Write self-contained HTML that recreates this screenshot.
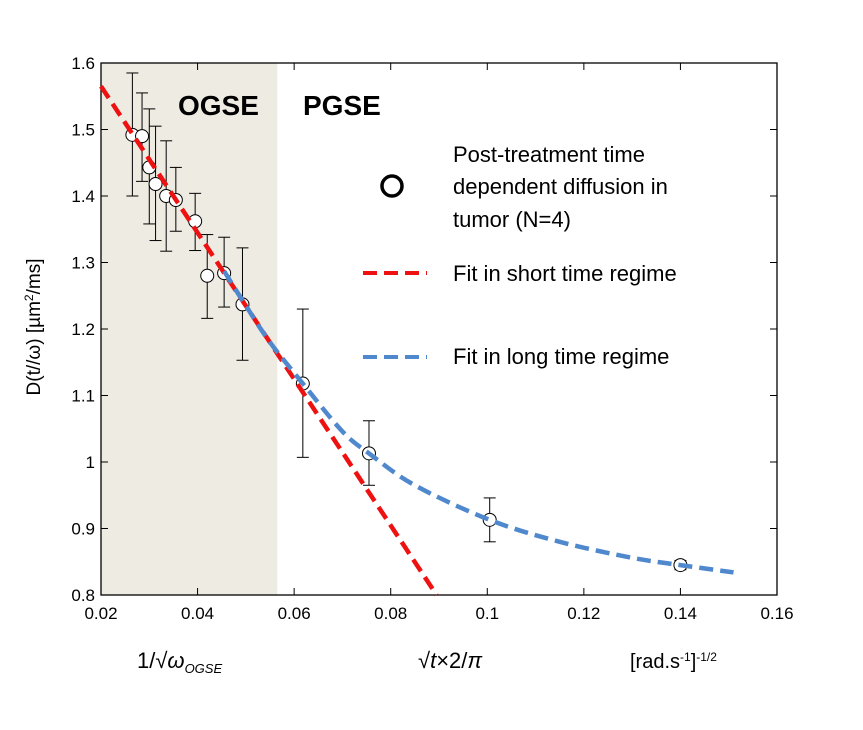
<!DOCTYPE html>
<html><head><meta charset="utf-8"><style>
body{margin:0;background:#fff;}
svg text{font-family:"Liberation Sans",sans-serif;}
</style></head><body>
<svg id="chart" width="863" height="725" xmlns="http://www.w3.org/2000/svg">
<rect x="0" y="0" width="863" height="725" fill="#fff"/>
<g id="plot"></g>
<text x="40" y="327" transform="rotate(-90 40 327)" text-anchor="middle" font-size="19">D(t//ω) [µm<tspan baseline-shift="super" font-size="12">2</tspan>/ms]</text>
<text x="137" y="668" font-family="Liberation Serif" font-size="22">1/√<tspan font-style="italic">ω</tspan><tspan font-style="italic" font-size="13" dy="5">OGSE</tspan></text>
<text x="418" y="668" font-family="Liberation Serif" font-size="22">√<tspan font-style="italic">t</tspan>×2/<tspan font-style="italic">π</tspan></text>
<text x="630" y="668" font-size="20">[rad.s<tspan baseline-shift="super" font-size="12">-1</tspan>]<tspan baseline-shift="super" font-size="12">-1/2</tspan></text>
</svg>
<script>
const xTicks=[0.02,0.04,0.06,0.08,0.1,0.12,0.14,0.16];
const xTickLabels=["0.02","0.04","0.06","0.08","0.1","0.12","0.14","0.16"];
const yTicks=[0.8,0.9,1.0,1.1,1.2,1.3,1.4,1.5,1.6];
const yTickLabels=["0.8","0.9","1","1.1","1.2","1.3","1.4","1.5","1.6"];
const ptX=[0.0265,0.0285,0.0300,0.0313,0.0335,0.0355,0.0395,0.0420,0.0455,0.0493,0.0618,0.0755,0.1005,0.1400];
const ptY=[1.492,1.490,1.443,1.418,1.400,1.394,1.362,1.280,1.284,1.237,1.118,1.013,0.913,0.845];
const errLo=[1.400,1.422,1.358,1.333,1.317,1.347,1.318,1.216,1.233,1.153,1.007,0.965,0.880,0.838];
const errHi=[1.585,1.555,1.531,1.505,1.483,1.443,1.404,1.342,1.338,1.322,1.230,1.062,0.946,0.852];
const shortFitX=[0.02,0.0895];
const shortFitY=[1.565,0.80];
const longFitX=[0.0455,0.050,0.055,0.0618,0.070,0.0755,0.085,0.1005,0.115,0.130,0.140,0.151];
const longFitY=[1.287,1.235,1.180,1.118,1.046,1.013,0.965,0.913,0.880,0.856,0.845,0.834];
const shadeEnd=0.0565;

const L=101,R=777,T=63,B=595;
const sx=v=>L+(v-0.02)/(0.14)*(R-L);
const sy=v=>B-(v-0.8)/0.8*(B-T);
const NS="http://www.w3.org/2000/svg";
const g=document.getElementById('plot');
function mk(tag,at,parent){const e=document.createElementNS(NS,tag);for(const k in at)e.setAttribute(k,at[k]);(parent||g).appendChild(e);return e;}

let e=mk('rect',{x:L,y:T,width:sx(shadeEnd)-L,height:B-T,fill:'#eeebe2'});


e=mk('rect',{x:L,y:T,width:R-L,height:B-T,fill:'none',stroke:'#000','stroke-width':1.3});



xTicks.forEach((v,i)=>{
 const x=sx(v);
 mk('line',{x1:x,x2:x,y1:B,y2:B-7,stroke:'#000','stroke-width':1});
 mk('line',{x1:x,x2:x,y1:T,y2:T+7,stroke:'#000','stroke-width':1});
 const t=mk('text',{x:x,y:B+24,'text-anchor':'middle','font-size':17});
 t.textContent=xTickLabels[i];
 
 
});
yTicks.forEach((v,i)=>{
 const y=sy(v);
 mk('line',{x1:L,x2:L+7,y1:y,y2:y,stroke:'#000','stroke-width':1});
 mk('line',{x1:R,x2:R-7,y1:y,y2:y,stroke:'#000','stroke-width':1});
 const t=mk('text',{x:L-6,y:y+6,'text-anchor':'end','font-size':17});
 t.textContent=yTickLabels[i];
 
 
});

let t=mk('text',{x:178,y:115,'font-size':28,'font-weight':'bold'});t.textContent='OGSE';


t=mk('text',{x:303,y:115,'font-size':28,'font-weight':'bold'});t.textContent='PGSE';



ptX.forEach((v,i)=>{
 const x=sx(v),y1=sy(errLo[i]),y2=sy(errHi[i]);
 const eg=mk('g',{stroke:'#000','stroke-width':1});
 
 
 mk('line',{x1:x,x2:x,y1:y1,y2:y2},eg);
 mk('line',{x1:x-6,x2:x+6,y1:y1,y2:y1},eg);
 mk('line',{x1:x-6,x2:x+6,y1:y2,y2:y2},eg);
});
ptX.forEach((v,i)=>{
 const c=mk('circle',{cx:sx(v),cy:sy(ptY[i]),r:6.5,fill:'#fff',stroke:'#000','stroke-width':1});
 
 
});
e=mk('line',{x1:sx(shortFitX[0]),y1:sy(shortFitY[0]),x2:sx(shortFitX[1]),y2:sy(shortFitY[1]),stroke:'#ee1111','stroke-width':4.5,'stroke-dasharray':'14 7'});


// long fit: smooth Catmull-Rom through values
const P=longFitX.map((v,i)=>[sx(v),sy(longFitY[i])]);
let d='M'+P[0][0].toFixed(1)+' '+P[0][1].toFixed(1);
for(let i=0;i<P.length-1;i++){
 const p0=P[Math.max(0,i-1)],p1=P[i],p2=P[i+1],p3=P[Math.min(P.length-1,i+2)];
 const c1=[p1[0]+(p2[0]-p0[0])/6,p1[1]+(p2[1]-p0[1])/6];
 const c2=[p2[0]-(p3[0]-p1[0])/6,p2[1]-(p3[1]-p1[1])/6];
 d+='C'+c1.map(n=>n.toFixed(1)).join(' ')+' '+c2.map(n=>n.toFixed(1)).join(' ')+' '+p2.map(n=>n.toFixed(1)).join(' ');
}
e=mk('path',{d:d,fill:'none',stroke:'#4f88cc','stroke-width':4.5,'stroke-dasharray':'14 7'});



const lg=mk('g',{});


mk('circle',{cx:392,cy:186,r:10,fill:'none',stroke:'#000','stroke-width':3.5},lg);
[['Post-treatment time',162],['dependent diffusion in',194],['tumor (N=4)',227],['Fit in short time regime',281],['Fit in long time regime',364]].forEach(a=>{
 const tt=mk('text',{x:453,y:a[1],'font-size':22},lg);tt.textContent=a[0];
 
 
});
mk('line',{x1:363,x2:427,y1:273,y2:273,stroke:'#ee1111','stroke-width':4,'stroke-dasharray':'14 7'},lg);
mk('line',{x1:363,x2:427,y1:357,y2:357,stroke:'#4f88cc','stroke-width':4,'stroke-dasharray':'14 7'},lg);
</script>
</body></html>
